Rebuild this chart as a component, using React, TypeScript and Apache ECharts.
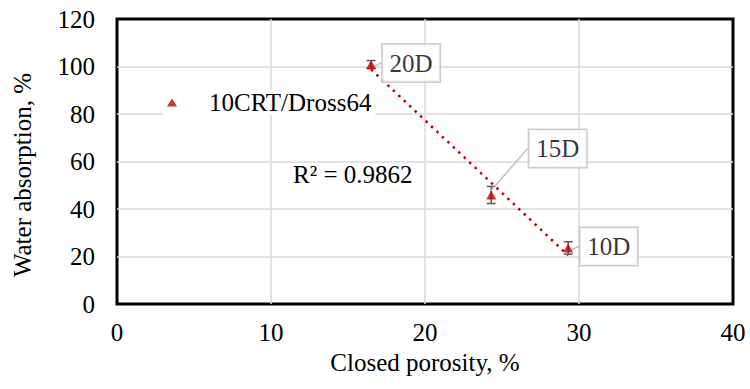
import React, { useEffect, useRef } from "react";
import * as echarts from "echarts";

// Closed porosity (%) vs water absorption (%) for the 10CRT/Dross64 mixes
const mixLabels = ["20D", "15D", "10D"];
const closedPorosity = [16.5, 24.3, 29.3];
const waterAbsorption = [100.8, 45.9, 23.6];
const absorptionError = [1.7, 3.6, 2.6];
const rSquaredText = "R² = 0.9862";
const seriesName = "10CRT/Dross64";

// callout offsets (px) for each mix label
const calloutShift: [number, number][] = [
  [40, -1.5],
  [66.5, -46.5],
  [40.5, -1.5],
];

const FONT = "Liberation Serif";
const FS = 25;
const RED = "#C00000";

function linearFit(xs: number[], ys: number[]) {
  const n = xs.length;
  const mx = xs.reduce((a, b) => a + b, 0) / n;
  const my = ys.reduce((a, b) => a + b, 0) / n;
  let sxy = 0;
  let sxx = 0;
  for (let i = 0; i < n; i++) {
    sxy += (xs[i] - mx) * (ys[i] - my);
    sxx += (xs[i] - mx) * (xs[i] - mx);
  }
  const slope = sxy / sxx;
  return { slope, intercept: my - slope * mx };
}

export default function App() {
  const ref = useRef<HTMLDivElement>(null);

  useEffect(() => {
    if (!ref.current) return;
    const chart = echarts.init(ref.current, undefined, { renderer: "svg" });

    const fit = linearFit(closedPorosity, waterAbsorption);
    const xMin = Math.min(...closedPorosity);
    const xMax = Math.max(...closedPorosity);
    const trend = [
      [xMin, fit.intercept + fit.slope * xMin],
      [xMax, fit.intercept + fit.slope * xMax],
    ];

    const points = closedPorosity.map((x, i) => ({
      value: [x, waterAbsorption[i]],
      name: mixLabels[i],
    }));
    const errors = closedPorosity.map((x, i) => [
      x,
      waterAbsorption[i] - absorptionError[i],
      waterAbsorption[i] + absorptionError[i],
    ]);

    const splitLine = {
      show: true,
      showMinLine: false,
      showMaxLine: false,
      lineStyle: { color: "#d9d9d9", width: 1.5 },
    };
    const tickText = { fontFamily: FONT, fontSize: FS, color: "#000" };

    chart.setOption({
      animation: false,
      backgroundColor: "#ffffff",
      textStyle: { fontFamily: FONT },
      grid: {
        left: 117,
        right: 17,
        top: 19,
        bottom: 85,
        outerBoundsMode: "none",
        containLabel: false,
        show: true,
        borderColor: "#000000",
        borderWidth: 3,
      },
      legend: {
        show: true,
        data: [{ name: seriesName, icon: "triangle" }],
        left: 163,
        top: 90,
        itemWidth: 10,
        itemHeight: 8,
        backgroundColor: "#ffffff",
        padding: [0, 4],
        textStyle: { ...tickText, lineHeight: 20, padding: [0, 0, 0, 27] },
      },
      xAxis: {
        type: "value",
        min: 0,
        max: 40,
        interval: 10,
        name: "Closed porosity, %",
        nameLocation: "middle",
        nameGap: 46,
        nameTextStyle: tickText,
        axisLine: { show: false },
        axisTick: { show: false },
        axisLabel: { ...tickText, margin: 16 },
        splitLine,
      },
      yAxis: {
        type: "value",
        min: 0,
        max: 120,
        interval: 20,
        name: "Water absorption, %",
        nameLocation: "middle",
        nameGap: 82,
        nameTextStyle: { ...tickText, padding: [0, 27, 0, 0] },
        axisLine: { show: false },
        axisTick: { show: false },
        axisLabel: { ...tickText, margin: 22 },
        splitLine,
      },
      series: [
        {
          name: "trend",
          type: "line",
          data: trend,
          symbol: "none",
          silent: true,
          lineStyle: { color: RED, width: 2.5, type: [2.5, 5] },
          z: 2,
        },
        {
          name: "error",
          type: "custom",
          data: errors,
          silent: true,
          z: 3,
          renderItem: (params: any, api: any) => {
            const x = api.value(0);
            const lo = api.coord([x, api.value(1)]);
            const hi = api.coord([x, api.value(2)]);
            const cap = 4.5;
            const style = { stroke: "#595959", lineWidth: 1.5 };
            return {
              type: "group",
              children: [
                { type: "line", shape: { x1: lo[0], y1: lo[1], x2: hi[0], y2: hi[1] }, style },
                { type: "line", shape: { x1: lo[0] - cap, y1: lo[1], x2: lo[0] + cap, y2: lo[1] }, style },
                { type: "line", shape: { x1: hi[0] - cap, y1: hi[1], x2: hi[0] + cap, y2: hi[1] }, style },
              ],
            };
          },
        },
        {
          name: seriesName,
          type: "scatter",
          data: points,
          symbol: "triangle",
          symbolSize: [10, 9],
          itemStyle: { color: RED },
          z: 4,
          label: {
            show: true,
            formatter: "{b}",
            position: "inside",
            fontFamily: FONT,
            fontSize: FS,
            lineHeight: 27,
            color: "#000000",
            backgroundColor: "#ffffff",
            borderColor: "#bfbfbf",
            borderWidth: 1.5,
            padding: [5, 7, 5, 7],
          },
          labelLine: { show: true, lineStyle: { color: "#bfbfbf", width: 1.5 } },
          labelLayout: (params: any) => {
            const s = calloutShift[params.dataIndex] || [0, 0];
            return { dx: s[0], dy: s[1] };
          },
        },
      ],
      graphic: [
        {
          type: "text",
          left: 293,
          top: 162,
          style: { text: rSquaredText, fontFamily: FONT, fontSize: FS, fill: "#000" },
        },
      ],
    });

    return () => chart.dispose();
  }, []);

  return (
    <div
      ref={ref}
      style={{ position: "absolute", left: 0, top: 0, width: 750, height: 389 }}
    />
  );
}
